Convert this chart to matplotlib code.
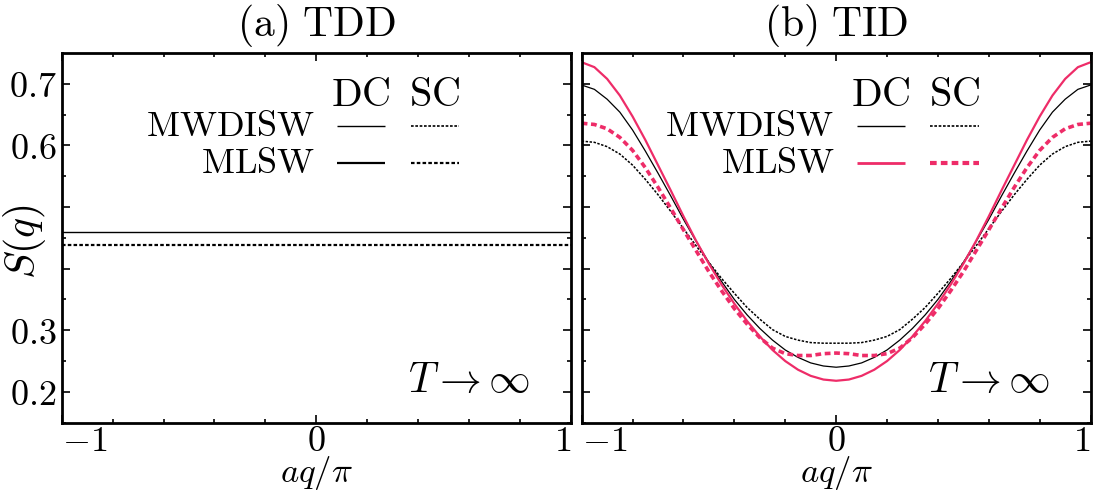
#!/usr/bin/env python3
"""Static structure factor S(q), TDD vs TID panels"""
import matplotlib
matplotlib.use('Agg')
import matplotlib.pyplot as plt

plt.rcParams['mathtext.fontset'] = 'cm'
plt.rcParams['font.family'] = 'serif'

RED = '#EE2C68'
FS = 26        # tick labels, legend names
FS_BIG = 30    # titles, T -> inf, y label

# panel (a): temperature-independent constants
tdd_x = [-1.0, 1.0]
tdd_dc = [0.459, 0.459]
tdd_sc = [0.439, 0.439]

# panel (b): curves
q = [-1.0, -0.95, -0.9, -0.85, -0.8, -0.75, -0.7, -0.65, -0.6, -0.55, -0.5,
     -0.45, -0.4, -0.35, -0.3, -0.25, -0.2, -0.15, -0.1, -0.05, 0.0,
     0.05, 0.1, 0.15, 0.2, 0.25, 0.3, 0.35, 0.4, 0.45, 0.5,
     0.55, 0.6, 0.65, 0.7, 0.75, 0.8, 0.85, 0.9, 0.95, 1.0]
mwdisw_dc = [0.698, 0.691, 0.675, 0.654, 0.625, 0.591, 0.555, 0.518, 0.480, 0.444, 0.410,
             0.379, 0.350, 0.325, 0.303, 0.284, 0.268, 0.256, 0.247, 0.242, 0.240,
             0.242, 0.247, 0.256, 0.268, 0.284, 0.303, 0.325, 0.350, 0.379, 0.410,
             0.444, 0.480, 0.518, 0.555, 0.591, 0.625, 0.654, 0.675, 0.691, 0.698]
mwdisw_sc = [0.607, 0.605, 0.598, 0.586, 0.568, 0.545, 0.520, 0.493, 0.465, 0.437, 0.410,
             0.384, 0.360, 0.337, 0.318, 0.301, 0.290, 0.284, 0.280, 0.279, 0.279,
             0.279, 0.280, 0.284, 0.290, 0.301, 0.318, 0.337, 0.360, 0.384, 0.410,
             0.437, 0.465, 0.493, 0.520, 0.545, 0.568, 0.586, 0.598, 0.605, 0.607]
mlsw_dc = [0.735, 0.727, 0.708, 0.681, 0.647, 0.609, 0.568, 0.527, 0.485, 0.445, 0.408,
           0.374, 0.343, 0.315, 0.290, 0.268, 0.250, 0.236, 0.226, 0.220, 0.218,
           0.220, 0.226, 0.236, 0.250, 0.268, 0.290, 0.315, 0.343, 0.374, 0.408,
           0.445, 0.485, 0.527, 0.568, 0.609, 0.647, 0.681, 0.708, 0.727, 0.735]
mlsw_sc = [0.636, 0.634, 0.627, 0.613, 0.592, 0.564, 0.532, 0.498, 0.463, 0.429, 0.395,
           0.364, 0.335, 0.310, 0.288, 0.271, 0.262, 0.259, 0.259, 0.262, 0.263,
           0.262, 0.259, 0.259, 0.262, 0.271, 0.288, 0.310, 0.335, 0.364, 0.395,
           0.429, 0.463, 0.498, 0.532, 0.564, 0.592, 0.613, 0.627, 0.634, 0.636]

y_major = [0.2, 0.3, 0.4, 0.5, 0.6, 0.7]
y_labels = ['$0.2$', '$0.3$', '', '', '$0.6$', '$0.7$']
y_minor = [0.15, 0.25, 0.35, 0.45, 0.55, 0.65]
x_major = [-1, 0, 1]
x_labels = ['$-1$', '$0$', '$1$']
x_minor = [-0.8, -0.6, -0.4, -0.2, 0.2, 0.4, 0.6, 0.8]

DOT = (0, (1.6, 1.0))


def style_axes(ax, show_ylabels):
    ax.set_xlim(-1, 1)
    ax.set_ylim(0.15, 0.75)
    for sp in ax.spines.values():
        sp.set_linewidth(2.0)
    ax.set_xticks(x_major)
    ax.set_xticklabels(x_labels)
    ax.set_xticks(x_minor, minor=True)
    ax.set_yticks(y_major)
    ax.set_yticks(y_minor, minor=True)
    if show_ylabels:
        ax.set_yticklabels(y_labels)
    else:
        ax.set_yticklabels([])
    ax.tick_params(which='both', direction='in', top=True, right=True,
                   labelsize=FS, width=1.2, pad=4)
    ax.tick_params(axis='x', pad=1)
    ax.tick_params(which='major', length=6)
    ax.tick_params(which='minor', length=3.2)
    xl = ax.get_xticklabels()
    xl[0].set_ha('left')
    xl[-1].set_ha('right')
    ax.set_xlabel(r'$aq/\pi$', fontsize=25, labelpad=-3)
    ax.text(0.92, 0.115, r'$T\rightarrow\infty$', transform=ax.transAxes,
            fontsize=FS_BIG, ha='right', va='center')


def legend(ax, mlsw_color, mlsw_lw_dc, mlsw_lw_sc):
    ax.text(0.5875, 0.886, r'$\mathrm{DC}$', transform=ax.transAxes,
            fontsize=29, ha='center', va='center')
    ax.text(0.733, 0.886, r'$\mathrm{SC}$', transform=ax.transAxes,
            fontsize=29, ha='center', va='center')
    rows = [('MWDISW', 0.8025, 'black', 1.0, 1.2),
            ('MLSW', 0.7017, mlsw_color, mlsw_lw_dc, mlsw_lw_sc)]
    for name, yy, col, lwd, lws in rows:
        ax.text(0.497, yy, r'$\mathrm{%s}$' % name, transform=ax.transAxes,
                fontsize=FS, ha='right', va='center')
        ax.plot([0.54, 0.635], [yy, yy], transform=ax.transAxes,
                color=col, lw=lwd, solid_capstyle='butt')
        ax.plot([0.685, 0.781], [yy, yy], transform=ax.transAxes,
                color=col, lw=lws, ls=DOT)


fig = plt.figure(figsize=(10.95, 4.92), dpi=100)
ax1 = fig.add_axes([0.0563, 0.1409, 0.4652, 0.7514])
ax2 = fig.add_axes([0.5312, 0.1409, 0.4648, 0.7514])

# (a) TDD
ax1.plot(tdd_x, tdd_dc, color='black', lw=1.0)
ax1.plot(tdd_x, tdd_sc, color='black', lw=1.6, ls=DOT)
style_axes(ax1, True)
legend(ax1, 'black', 1.6, 1.6)
ax1.set_title(r'$\mathrm{(a)\ TDD}$', fontsize=FS_BIG, pad=12)
ax1.set_ylabel(r'$S(q)$', fontsize=FS_BIG, va='center')
ax1.yaxis.set_label_coords(-0.072, 0.49)

# (b) TID
ax2.plot(q, mwdisw_dc, color='black', lw=0.9)
ax2.plot(q, mwdisw_sc, color='black', lw=1.1, ls=DOT)
ax2.plot(q, mlsw_dc, color=RED, lw=1.6)
ax2.plot(q, mlsw_sc, color=RED, lw=2.6, ls=DOT)
style_axes(ax2, False)
legend(ax2, RED, 2.0, 3.0)
ax2.set_title(r'$\mathrm{(b)\ TID}$', fontsize=FS_BIG, pad=12)

fig.savefig('out.png', dpi=100, facecolor='white')
